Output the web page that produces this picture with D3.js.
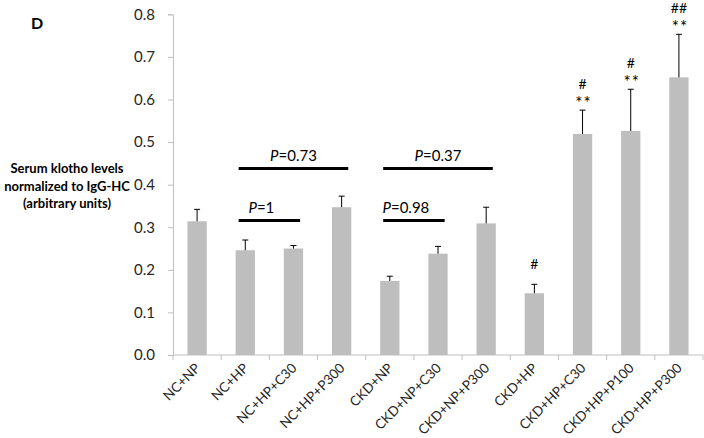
<!DOCTYPE html>
<html><head><meta charset="utf-8">
<script src="https://cdn.jsdelivr.net/npm/d3@7"></script>
<style>
body{margin:0;background:#fff;}
svg{display:block;font-family:Lato,"Open Sans",sans-serif;}
</style></head>
<body><svg id="c" width="704" height="438"></svg>
<script>
const categories = ["NC+NP","NC+HP","NC+HP+C30","NC+HP+P300","CKD+NP","CKD+NP+C30","CKD+NP+P300","CKD+HP","CKD+HP+C30","CKD+HP+P100","CKD+HP+P300"];
const values = [0.314, 0.246, 0.250, 0.347, 0.174, 0.238, 0.309, 0.145, 0.519, 0.526, 0.652];
const errors = [0.028, 0.024, 0.007, 0.026, 0.011, 0.017, 0.038, 0.021, 0.056, 0.098, 0.101];
const hashMarks = ["", "", "", "", "", "", "", "#", "#", "#", "##"];
const starMarks = ["", "", "", "", "", "", "", "", "**", "**", "**"];
const yTicks = [0, 0.1, 0.2, 0.3, 0.4, 0.5, 0.6, 0.7, 0.8];
const compFrom = ["NC+HP", "CKD+NP", "NC+HP", "CKD+NP"];
const compTo = ["NC+HP+P300", "CKD+NP+P300", "NC+HP+C30", "CKD+NP+C30"];
const compP = ["0.73", "0.37", "1", "0.98"];
const compY = [0.438, 0.438, 0.316, 0.316];
const yTitle = ["Serum klotho levels", "normalized to IgG-HC", "(arbitrary units)"];

const svg = d3.select("#c");
const mLeft = 173, mRight = 703, mTop = 14.3, mBottom = 355;
const x = d3.scaleBand().domain(categories).range([mLeft, mRight]).paddingInner(0.6).paddingOuter(0.3);
const y = d3.scaleLinear().domain([0, 0.8]).range([mBottom, mTop]);
const axisColor = "#bfbfbf";
const textColor = "#262626";

// y axis
const ya = svg.append("g").attr("transform", `translate(${mLeft},0)`)
  .call(d3.axisLeft(y).tickValues(yTicks).tickFormat(d3.format(".1f")).tickSize(5).tickPadding(13));
ya.select(".domain").attr("stroke", axisColor);
ya.selectAll(".tick line").attr("stroke", axisColor);
ya.selectAll(".tick text").attr("font-size", 15).attr("fill", textColor).attr("font-family", "Lato");

// x axis
const xa = svg.append("g").attr("transform", `translate(0,${mBottom})`);
xa.append("line").attr("x1", mLeft).attr("x2", mRight).attr("stroke", axisColor);
const step = x.step();
xa.selectAll("line.tk").data(d3.range(categories.length + 1)).enter().append("line")
  .attr("class", "tk").attr("x1", i => mLeft + i*step)
  .attr("x2", i => mLeft + i*step).attr("y1", 0).attr("y2", 5).attr("stroke", axisColor);
xa.selectAll("text").data(categories).enter().append("text")
  .attr("transform", d => `translate(${x(d) + x.bandwidth()/2 + 4},${14}) rotate(-45)`)
  .attr("text-anchor", "end").attr("font-size", 13.5).attr("fill", textColor).text(d => d);

// bars
svg.append("g").selectAll("rect").data(categories).enter().append("rect")
  .attr("x", d => x(d)).attr("width", x.bandwidth())
  .attr("y", (d, i) => y(values[i])).attr("height", (d, i) => y(0) - y(values[i]))
  .attr("fill", "#bebebe");

// error bars (upward only)
const eb = svg.append("g").attr("stroke", "#000").attr("stroke-width", 1);
categories.forEach((d, i) => {
  const cx = x(d) + x.bandwidth()/2;
  eb.append("line").attr("x1", cx).attr("x2", cx).attr("y1", y(values[i])).attr("y2", y(values[i] + errors[i]));
  eb.append("line").attr("x1", cx - 3).attr("x2", cx + 3).attr("y1", y(values[i] + errors[i])).attr("y2", y(values[i] + errors[i]));
});

// significance markers
categories.forEach((d, i) => {
  const cx = x(d) + x.bandwidth()/2;
  const capY = y(values[i] + errors[i]);
  if (starMarks[i]) {
    svg.append("text").attr("x", cx + 1).attr("y", capY - 13).attr("text-anchor", "middle")
      .attr("dominant-baseline", "central").attr("font-size", 17).attr("letter-spacing", 1)
      .attr("fill", "#000").text(starMarks[i]).attr("dy", "0.3em");
  }
  if (hashMarks[i]) {
    const off = starMarks[i] ? 26 : 20;
    svg.append("text").attr("x", cx).attr("y", capY - off + 5).attr("text-anchor", "middle")
      .attr("font-size", 14).attr("fill", "#000").text(hashMarks[i]);
  }
});

// comparison brackets
compFrom.forEach((f, i) => {
  const x1 = x(f) + 3;
  const x2 = x(compTo[i]) + x.bandwidth() - 3;
  const yy = y(compY[i]);
  svg.append("line").attr("x1", x1).attr("x2", x2).attr("y1", yy).attr("y2", yy)
    .attr("stroke", "#000").attr("stroke-width", 3);
  const t = svg.append("text").attr("x", (x1 + x2)/2 + (i >= 2 ? -8 : 0)).attr("y", yy - 7)
    .attr("text-anchor", "middle").attr("font-size", 15).attr("fill", "#000");
  t.append("tspan").attr("font-style", "italic").text("P");
  t.append("tspan").text("=" + compP[i]);
});

// y title
const yt = svg.append("text").attr("text-anchor", "middle").attr("font-size", 13).attr("font-weight", "bold").attr("fill", "#000");
yTitle.forEach((s, i) => yt.append("tspan").attr("x", 67).attr("y", 173 + i*17.5).text(s));

// panel label
svg.append("text").attr("x", 37).attr("y", 29).attr("font-size", 16).attr("font-weight", "bold").attr("text-anchor", "middle").text("D");
</script></body></html>
